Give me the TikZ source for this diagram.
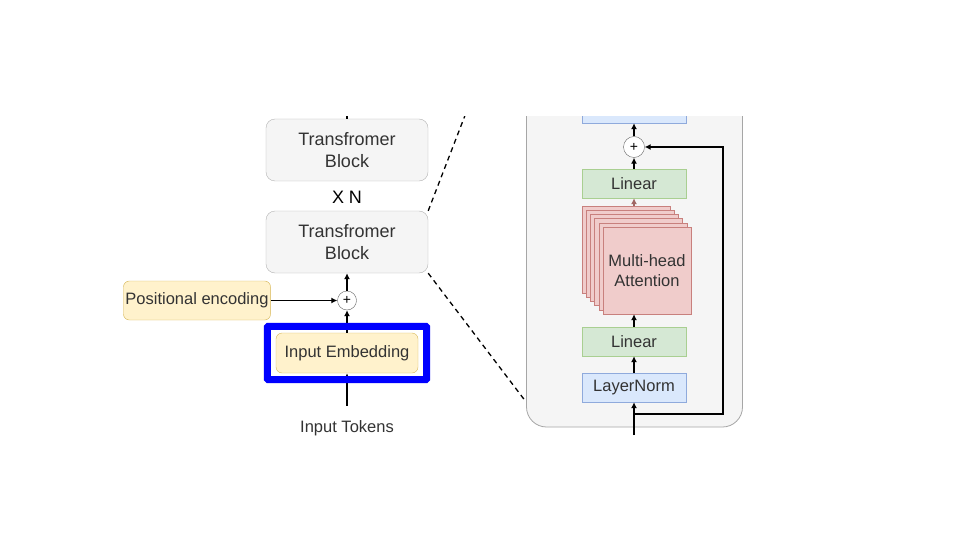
\documentclass[tikz,border=0pt]{standalone}
\usepackage{fontspec}
\setmainfont{Liberation Sans}
\usetikzlibrary{fit, positioning, arrows.meta, calc}
\definecolor{txtgray}{HTML}{333333}
\definecolor{blockfill}{HTML}{F5F5F5}
\definecolor{blockline}{HTML}{B3B3B3}
\definecolor{panelline}{HTML}{A6A6A6}
\definecolor{yelfill}{HTML}{FFF2CC}
\definecolor{yelline}{HTML}{D6B656}
\definecolor{grnfill}{HTML}{D5E8D4}
\definecolor{grnline}{HTML}{A9CF91}
\definecolor{blufill}{HTML}{DAE8FC}
\definecolor{bluline}{HTML}{8FAADC}
\definecolor{redfill}{HTML}{F0CCCB}
\definecolor{redline}{HTML}{C8807D}
\definecolor{hlblue}{HTML}{0000FF}

\begin{document}
\begin{tikzpicture}
        [
            x=1pt, y=-1pt,
            every node/.style={text=txtgray, font=\fontsize{16.5}{20}\selectfont},
            block/.style={rectangle, rounded corners=9pt, draw=blockline, fill=blockfill,
                          minimum width=162pt, minimum height=62pt, align=center,
                          font=\fontsize{18}{22}\selectfont},
            yelbox/.style={rectangle, rounded corners=6pt, draw=yelline, fill=yelfill,
                           minimum height=39pt, inner xsep=2pt},
            linbox/.style={rectangle, draw=grnline, fill=grnfill,
                           minimum width=104pt, minimum height=29pt},
            normbox/.style={rectangle, draw=bluline, fill=blufill,
                            minimum width=104pt, minimum height=29pt},
            attn/.style={rectangle, draw=redline, fill=redfill,
                         minimum width=88pt, minimum height=87pt, align=center},
            addop/.style={circle, draw=black!60, fill=white, minimum size=#1,
                          inner sep=0pt, text=black, font=\fontsize{14}{14}\selectfont},
            arr/.style={-{Latex[length=6pt,width=6pt]}, line width=1.4pt, black},
            zoomline/.style={line width=1.3pt, dash pattern=on 5pt off 4pt}
        ]
        \useasboundingbox (0,0) rectangle (960,540);
        \begin{scope}
        \clip (0,117) rectangle (960,540);
        % left: stack of blocks
        \node (blk2) [block] at (347,150) {Transfromer\\Block};
        \node (xn) [font=\fontsize{18}{22}\selectfont, text=black] at (347,197) {X N};
        \node (blk1) [block] at (347,242) {Transfromer\\Block};
        \node (add1) [addop=19pt] at (347,300.5) {+};
        \node (pos) [yelbox] at (197,300.5) {Positional encoding};
        \node (emb) [yelbox, minimum width=142pt, minimum height=40pt] at (347,353) {Input Embedding};
        \node (tokens) at (347,428) {Input Tokens};
        \draw [line width=1.2pt] (blk2.north) -- ++(0,-12);
        \draw [arr] (add1) -- (blk1.south);
        \draw [arr] (pos) -- (add1);
        \draw [arr] (emb) -- (add1);
        \draw [arr] ([yshift=11pt]tokens.north) -- (emb.south);
        \node (frame) [fit=(emb), inner xsep=8.5pt, inner ysep=6.5pt, draw=hlblue,
                       line width=7pt, rounded corners=1pt] {};
        % right: zoomed block
        \node (panel) [rectangle, draw=panelline, fill=blockfill, rounded corners=20pt,
                       minimum width=216pt, minimum height=380pt, line width=0.8pt]
                       at (634.5,237) {};
        \draw [zoomline] (blk1.north east) -- ++(44,-114);
        \draw [zoomline] (blk1.south east) -- (panel.west |- 0,402);
        \node (top) [normbox, minimum height=30pt] at (634,108) {};
        \node (add2) [addop=21pt] at (634,147) {+};
        \node (lin1) [linbox] at (634,183.5) {Linear};
        \foreach \k [count = \j from 0] in {1,...,6}{
            \node (att\j) [attn] at (626+4.2*\j, 249.5+4.2*\j) {};
        }
        \node [align=center] at (att5) {Multi-head\\Attention};
        \node (lin2) [linbox] at (634,341.5) {Linear};
        \node (norm) [normbox] at (634,387.5) {LayerNorm};
        \coordinate (in) at (634,435);
        \coordinate (split) at (634,414);
        \coordinate (res) at (723,414);
        \draw [arr] (add2) -- (top.south);
        \draw [arr] (lin1) -- (add2);
        \draw [arr, redline!80!black] (lin1.south |- att0.north) -- (lin1.south);
        \draw [arr] (lin2.north) -- (lin2.north |- att5.south);
        \draw [arr] (norm) -- (lin2);
        \draw [arr] (in) -- (norm.south);
        \draw [arr] (split) -- (res) |- (add2.east);
        \end{scope}
    \end{tikzpicture}
\end{document}
